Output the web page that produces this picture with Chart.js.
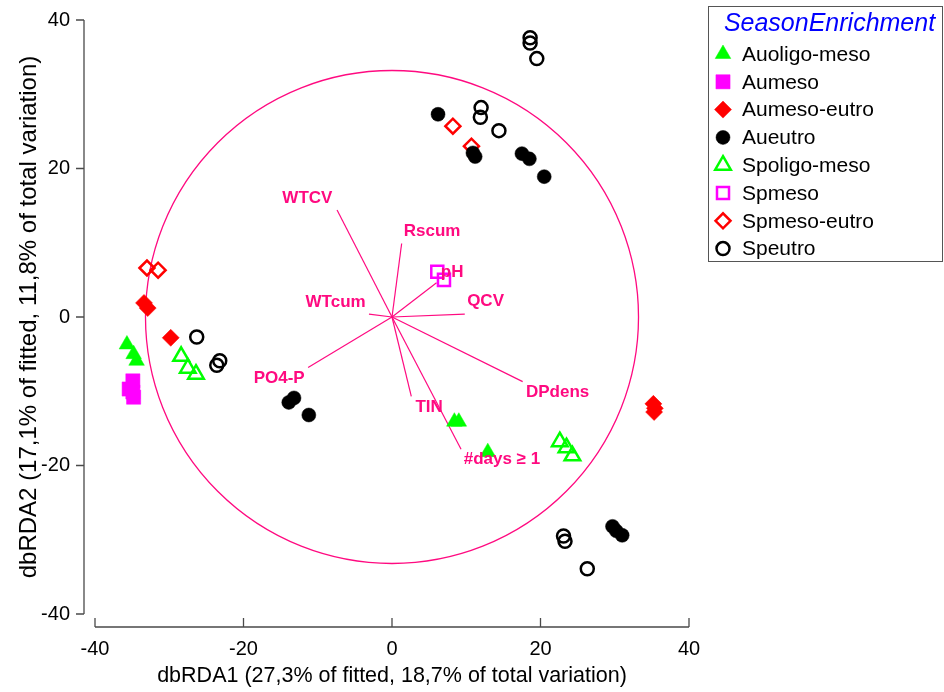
<!DOCTYPE html>
<html><head><meta charset="utf-8">
<script src="https://cdn.jsdelivr.net/npm/chart.js@4.4.1/dist/chart.umd.min.js"></script>
<style>html,body{margin:0;padding:0;background:#fff;overflow:hidden}</style>
</head><body>
<canvas id="c" width="944" height="692" style="width:944px;height:692px;display:block"></canvas>
<script>
// ---- tick values ----
const xTickValues = [-40, -20, 0, 20, 40];
const yTickValues = [-40, -20, 0, 20, 40];
const xTitle = 'dbRDA1 (27,3% of fitted, 18,7% of total variation)';
const yTitle = 'dbRDA2 (17,1% of fitted, 11,8% of total variation)';
const legendTitle = 'SeasonEnrichment';

// ---- sample scores per group ----
const auoligoMesoX = [-35.7, -34.8, -34.4, 8.4, 9.0, 12.9];
const auoligoMesoY = [-3.7, -5.0, -5.9, -14.1, -14.1, -18.2];
const aumesoX = [-34.9, -35.4, -34.8, -34.9];
const aumesoY = [-8.6, -9.7, -10.8, -10.1];
const aumesoEutroX = [-33.4, -32.9, -29.8, 35.2, 35.4, 35.3];
const aumesoEutroY = [1.9, 1.2, -2.8, -11.7, -12.3, -12.8];
const aueutroX = [6.2, 10.9, 11.2, 17.5, 18.5, 20.5, -13.9, -13.2, -11.2, 29.7, 30.2, 31.0];
const aueutroY = [27.3, 22.1, 21.6, 22.0, 21.3, 18.9, -11.5, -10.9, -13.2, -28.2, -28.8, -29.4];
const spoligoMesoX = [-28.4, -27.5, -26.4, 22.6, 23.5, 24.3];
const spoligoMesoY = [-5.3, -6.9, -7.7, -16.8, -17.6, -18.7];
const spmesoX = [6.1, 7.0];
const spmesoY = [6.1, 5.0];
const spmesoEutroX = [-33.0, -31.5, 8.2, 10.7];
const spmesoEutroY = [6.6, 6.3, 25.7, 23.0];
const speutroX = [18.6, 18.6, 19.5, 12.0, 11.9, 14.4, -26.3, -23.6, -23.2, 23.1, 23.3, 26.3];
const speutroY = [37.6, 36.9, 34.8, 28.2, 26.9, 25.1, -2.7, -6.5, -5.9, -29.5, -30.2, -33.9];

// ---- biplot vectors (data units) ----
const vectorNames = ['WTCV', 'Rscum', 'pH', 'QCV', 'WTcum', 'PO4-P', 'DPdens', 'TIN', '#days \u2265 1'];
const vectorEndX = [-7.4, 1.3, 6.0, 9.8, -3.1, -11.3, 17.6, 2.6, 9.3];
const vectorEndY = [14.4, 9.9, 4.6, 0.4, 0.4, -6.8, -8.7, -10.7, -17.8];
const labelX = [-11.4, 5.4, 8.1, 12.6, -7.6, -15.2, 22.3, 5.0, 14.8];
const labelY = [16.0, 11.5, 6.0, 2.1, 2.0, -8.2, -10.1, -12.2, -19.2];
const circleRadius = 33.2;

const FONT = 'Arial, "Liberation Sans", sans-serif';
const PINK = '#ff0a80';

function pts(xs, ys) { return xs.map((x, i) => ({x: x, y: ys[i]})); }

const groupDefs = [
  {label: 'Auoligo-meso', xs: auoligoMesoX, ys: auoligoMesoY, style: 'triangle', fill: true, color: '#00ff00', r: 9},
  {label: 'Aumeso', xs: aumesoX, ys: aumesoY, style: 'rect', fill: true, color: '#ff00ff', r: 10},
  {label: 'Aumeso-eutro', xs: aumesoEutroX, ys: aumesoEutroY, style: 'rectRot', fill: true, color: '#ff0000', r: 8.5},
  {label: 'Aueutro', xs: aueutroX, ys: aueutroY, style: 'circle', fill: true, color: '#000000', r: 7},
  {label: 'Spoligo-meso', xs: spoligoMesoX, ys: spoligoMesoY, style: 'triangle', fill: false, color: '#00ff00', r: 9},
  {label: 'Spmeso', xs: spmesoX, ys: spmesoY, style: 'rect', fill: false, color: '#ff00ff', r: 8.5},
  {label: 'Spmeso-eutro', xs: spmesoEutroX, ys: spmesoEutroY, style: 'rectRot', fill: false, color: '#ff0000', r: 7.5},
  {label: 'Speutro', xs: speutroX, ys: speutroY, style: 'circle', fill: false, color: '#000000', r: 6.5}
];

const datasets = [];
vectorNames.forEach((n, i) => {
  datasets.push({
    type: 'line', label: n, isVector: true,
    data: [{x: 0, y: 0}, {x: vectorEndX[i], y: vectorEndY[i]}],
    borderColor: PINK, borderWidth: 1.2, pointRadius: 0, fill: false, order: 10
  });
});
groupDefs.forEach(g => {
  datasets.push({
    type: 'scatter', label: g.label, isGroup: true,
    data: pts(g.xs, g.ys),
    pointStyle: g.style, pointRadius: g.r, pointHoverRadius: g.r,
    backgroundColor: g.fill ? g.color : 'rgba(0,0,0,0)',
    borderColor: g.color, borderWidth: g.fill ? 0.5 : 2.5, order: 1
  });
});

const overlayPlugin = {
  id: 'overlay',
  beforeDatasetsDraw(chart) {
    const ctx = chart.ctx, xs = chart.scales.x, ys = chart.scales.y;
    const cx = xs.getPixelForValue(0), cy = ys.getPixelForValue(0);
    const rx = xs.getPixelForValue(circleRadius) - cx;
    const ry = cy - ys.getPixelForValue(circleRadius);
    ctx.save();
    ctx.strokeStyle = PINK; ctx.lineWidth = 1.3;
    ctx.beginPath(); ctx.ellipse(cx, cy, rx, ry, 0, 0, Math.PI * 2); ctx.stroke();
    ctx.restore();
  },
  afterDatasetsDraw(chart) {
    const ctx = chart.ctx, xs = chart.scales.x, ys = chart.scales.y;
    ctx.save();
    ctx.fillStyle = PINK;
    ctx.font = 'bold 17px ' + FONT;
    ctx.textAlign = 'center'; ctx.textBaseline = 'middle';
    vectorNames.forEach((n, i) => {
      ctx.fillText(n, xs.getPixelForValue(labelX[i]), ys.getPixelForValue(labelY[i]));
    });
    ctx.restore();
  },
  afterDraw(chart) {
    const ctx = chart.ctx, xs = chart.scales.x, ys = chart.scales.y, ca = chart.chartArea;
    ctx.save();
    ctx.strokeStyle = '#4a4a4a'; ctx.lineWidth = 1.3;
    const ax = ca.left - 11;
    ctx.beginPath();
    ctx.moveTo(ax, ys.getPixelForValue(40)); ctx.lineTo(ax, ys.getPixelForValue(-40));
    yTickValues.forEach(v => { const p = ys.getPixelForValue(v); ctx.moveTo(ax, p); ctx.lineTo(ax - 8, p); });
    ctx.stroke();
    const ay = ca.bottom + 13;
    ctx.beginPath();
    ctx.moveTo(xs.getPixelForValue(-40), ay); ctx.lineTo(xs.getPixelForValue(40), ay);
    xTickValues.forEach(v => { const p = xs.getPixelForValue(v); ctx.moveTo(p, ay); ctx.lineTo(p, ay - 9); });
    ctx.stroke();
    ctx.restore();

    // legend
    const L = {left: 708, top: 6, right: 943, bottom: 262};
    ctx.save();
    ctx.fillStyle = '#fff';
    ctx.fillRect(L.left, L.top, L.right - L.left, L.bottom - L.top);
    ctx.strokeStyle = '#555'; ctx.lineWidth = 1;
    ctx.strokeRect(L.left + 0.5, L.top + 0.5, L.right - L.left - 1, L.bottom - L.top - 1);
    ctx.fillStyle = '#0000ff';
    ctx.font = 'italic 25px ' + FONT;
    ctx.textAlign = 'center'; ctx.textBaseline = 'middle';
    ctx.fillText(legendTitle, (L.left + L.right) / 2 + 4, 24);
    ctx.font = '21px ' + FONT;
    ctx.textAlign = 'left';
    chart.data.datasets.filter(d => d.isGroup).forEach((d, i) => {
      const yy = 54 + i * 27.8;
      ctx.fillStyle = d.backgroundColor; ctx.strokeStyle = d.borderColor; ctx.lineWidth = d.borderWidth;
      Chart.helpers.drawPoint(ctx, {pointStyle: d.pointStyle, radius: d.pointRadius, borderWidth: d.borderWidth, rotation: 0}, 723, yy);
      ctx.fillStyle = '#000';
      ctx.fillText(d.label, 742, yy + 1);
    });
    ctx.restore();
  }
};

new Chart(document.getElementById('c'), {
  type: 'scatter',
  data: {datasets: datasets},
  options: {
    responsive: false, animation: false, devicePixelRatio: 1,
    layout: {padding: {left: 0, top: 20, right: 255, bottom: 0}},
    plugins: {legend: {display: false}, tooltip: {enabled: false}},
    scales: {
      x: {
        type: 'linear', min: -40, max: 40,
        afterBuildTicks: s => { s.ticks = xTickValues.map(v => ({value: v})); },
        afterFit: s => { s.height = 78; s.paddingLeft = 0; s.paddingRight = 0; },
        grid: {display: false}, border: {display: false},
        ticks: {color: '#000', font: {size: 20, family: FONT}, padding: 15},
        title: {display: true, text: xTitle, color: '#000', font: {size: 21.5, family: FONT}, padding: {top: 0, bottom: 3}}
      },
      y: {
        type: 'linear', min: -40, max: 40,
        afterBuildTicks: s => { s.ticks = yTickValues.map(v => ({value: v})); },
        afterFit: s => { s.width = 95; s.paddingTop = 0; s.paddingBottom = 0; },
        grid: {display: false}, border: {display: false},
        ticks: {color: '#000', font: {size: 20, family: FONT}, padding: 17},
        title: {display: true, text: yTitle, color: '#000', font: {size: 24, family: FONT}, padding: {top: 15, bottom: 0}}
      }
    }
  },
  plugins: [overlayPlugin]
});
</script>
</body></html>
